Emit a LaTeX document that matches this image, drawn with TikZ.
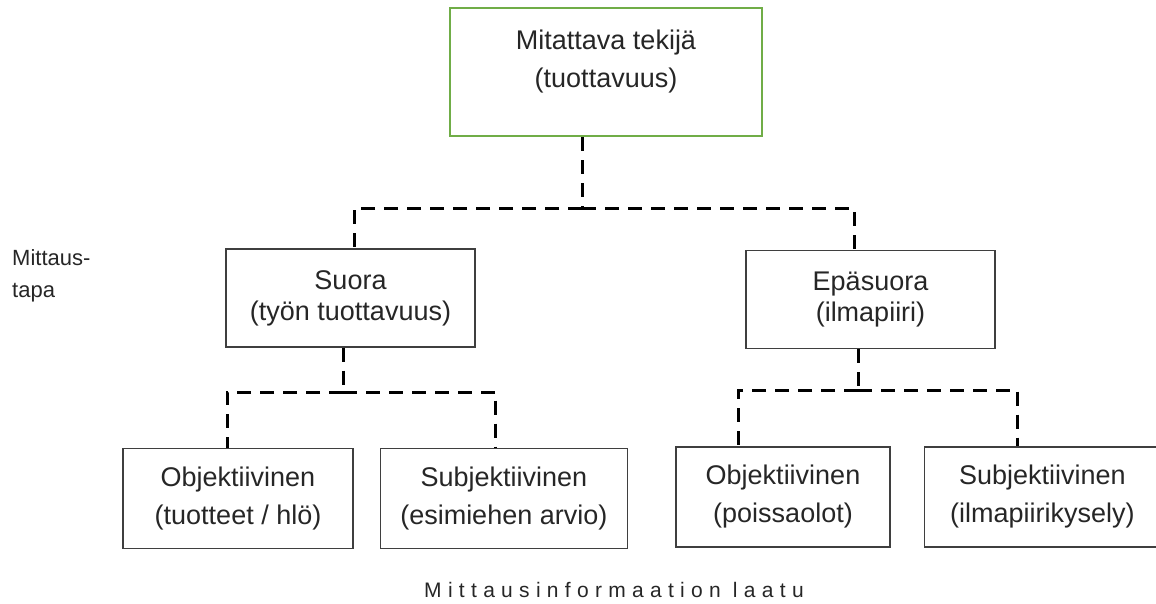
\documentclass[tikz,border=0pt]{standalone}
\usepackage{fontspec}
\setmainfont{Liberation Sans}
\newfontfamily\spacedfont[LetterSpace=30]{Liberation Sans}
\usepackage{xcolor}
\usepackage{tikz}
\usetikzlibrary{positioning}
\definecolor{RootGreen}{HTML}{70AD47}
\definecolor{BoxGray}{HTML}{3F3F3F}
\definecolor{TextDark}{HTML}{262626}
\tikzset{
  chartbox/.style={draw=BoxGray,line width=1.3pt,align=center,inner sep=0pt,text=TextDark,font=\fontsize{27}{38}\selectfont},
  rootbox/.style={chartbox,draw=RootGreen,line width=2pt,minimum width=312pt,minimum height=128pt},
  midbox/.style={chartbox,minimum width=249pt,minimum height=98pt,font=\fontsize{27}{31}\selectfont},
  leafbox/.style={chartbox,minimum height=100pt},
  treelink/.style={line width=3pt,draw=black,dash pattern=on 14pt off 9pt},
  sidelabel/.style={align=left,inner sep=0pt,text=TextDark,font=\fontsize{22}{32}\selectfont}
}
\begin{document}
\begin{tikzpicture}[x=1pt,y=-1pt]
\useasboundingbox (0,0) rectangle (1156,603);
\node[rootbox] (root) at (606,72) {Mitattava tekijä\\(tuottavuus)\\[-12pt]\mbox{}};
\node[midbox] (suora) at (350.5,298) {Suora\\(työn tuottavuus)};
\node[midbox] (epa) at (870.5,299.5) {Epäsuora\\(ilmapiiri)};
\node[leafbox,minimum width=230pt] (obj1) at (238,498.5) {Objektiivinen\\(tuotteet / hlö)};
\node[leafbox,minimum width=247pt,right=26pt of obj1] (subj1) {Subjektiivinen\\(esimiehen arvio)};
\node[leafbox,minimum width=214pt] (obj2) at (783,497) {Objektiivinen\\(poissaolot)};
\node[leafbox,minimum width=236pt,right=33pt of obj2] (subj2) {Subjektiivinen\\(ilmapiirikysely)};
\node[sidelabel,anchor=north west] (tapa) at (12,249) {Mittaus-\\tapa};
\node[anchor=base,inner sep=0pt,text=TextDark,font=\spacedfont\fontsize{21}{24}\selectfont] (laatu) at (614,597) {Mittausinformaation laatu};
% dashed tree
\coordinate (busA) at (582,208);
\coordinate (busB) at (343,392);
\coordinate (busC) at (858,390);
\draw[treelink] ([xshift=-24pt]root.south) -- (busA);
\draw[treelink] (busA) -| ([xshift=3.5pt]suora.north);
\draw[treelink] (busA) -| ([xshift=-16.5pt]epa.north);
\draw[treelink] ([xshift=-7.5pt]suora.south) -- (busB);
\draw[treelink] (busB) -| ([xshift=-11pt]obj1.north);
\draw[treelink] (busB) -| ([xshift=-8.5pt]subj1.north);
\draw[treelink] ([xshift=-12.5pt]epa.south) -- (busC);
\draw[treelink] (busC) -| ([xshift=-45pt]obj2.north);
\draw[treelink] (busC) -| ([xshift=-25pt]subj2.north);
\end{tikzpicture}
\end{document}
